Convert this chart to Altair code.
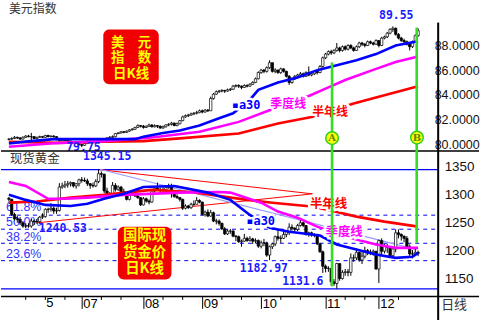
import altair as alt
import pandas as pd

# ---------------- data ----------------
usd_open0 = 80.38
usd_close = [80.40, 80.45, 80.55, 80.50, 80.40, 80.55, 80.65, 80.60, 80.60, 80.45,
             80.55, 80.60, 80.55, 80.70, 80.60, 80.65, 80.60, 80.35, 80.30, 80.35,
             80.30, 80.25, 80.10, 80.20, 80.10, 79.95, 79.90, 80.05, 80.25, 80.20,
             80.15, 80.10, 80.20, 80.20, 80.35, 80.50, 80.55, 80.60, 80.85, 80.90,
             81.00, 80.95, 81.05, 81.15, 81.20, 81.35, 81.50, 81.45, 81.35, 81.45,
             81.55, 81.40, 81.50, 81.45, 81.30, 81.40, 81.55, 81.60, 81.70, 81.50,
             81.65, 81.90, 82.20, 82.30, 82.35, 82.45, 82.50, 82.55, 82.70, 82.60,
             82.75, 82.70, 83.70, 84.05, 84.25, 84.30, 84.35, 84.30, 84.40, 84.45,
             84.70, 84.75, 84.70, 84.60, 84.75, 84.70, 84.85, 85.00, 85.30, 85.80,
             86.00, 85.90, 86.20, 86.60, 85.90, 86.00, 85.80, 86.10, 85.90, 85.50,
             85.00, 85.30, 85.50, 85.60, 85.70, 85.50, 85.80, 85.60, 85.70, 85.90,
             85.80, 86.30, 87.00, 87.30, 87.50, 87.40, 87.60, 87.80, 87.60, 87.90,
             87.70, 88.00, 87.80, 87.60, 87.90, 88.20, 88.10, 88.00, 88.30, 88.20,
             88.10, 88.40, 88.00, 88.60, 88.70, 89.00, 89.30, 89.40, 88.90, 88.60,
             88.40, 88.30, 88.10, 87.90, 88.30, 88.80, 89.20]
usd_high = [80.48, 80.55, 80.65, 80.60, 80.55, 80.62, 80.72, 80.75, 80.90, 80.65,
            80.60, 80.68, 80.66, 80.75, 80.75, 80.70, 80.72, 80.65, 80.40, 80.42,
            80.40, 80.40, 80.30, 80.25, 80.25, 80.15, 80.00, 80.10, 80.30, 80.30,
            80.25, 80.20, 80.25, 80.28, 80.40, 80.55, 80.65, 80.70, 80.90, 80.95,
            81.05, 81.05, 81.10, 81.20, 81.30, 81.40, 81.60, 81.55, 81.55, 81.50,
            81.65, 81.60, 81.60, 81.55, 81.50, 81.50, 81.60, 81.70, 81.80, 81.75,
            81.75, 81.95, 82.30, 82.40, 82.45, 82.55, 82.60, 82.70, 82.80, 82.80,
            82.85, 82.85, 83.85, 84.15, 84.35, 84.40, 84.45, 84.40, 84.50, 84.55,
            84.80, 84.85, 84.85, 84.75, 84.85, 84.85, 84.95, 85.10, 85.40, 85.90,
            86.10, 86.10, 86.30, 86.80, 86.60, 86.15, 86.05, 86.20, 86.15, 85.95,
            85.60, 85.40, 85.60, 85.70, 85.85, 85.80, 85.90, 86.30, 85.80, 86.00,
            86.00, 86.40, 87.10, 87.40, 87.60, 87.65, 87.70, 88.20, 87.90, 88.00,
            88.00, 88.10, 88.10, 87.90, 88.00, 88.30, 88.30, 88.20, 88.40, 88.40,
            88.30, 88.50, 88.45, 88.70, 88.80, 89.10, 89.40, 89.55, 89.45, 89.00,
            88.70, 88.55, 88.40, 88.20, 88.40, 88.90, 89.40]
usd_low = [80.30, 80.35, 80.40, 80.42, 80.35, 80.38, 80.50, 80.55, 80.25, 80.40,
           80.40, 80.50, 80.50, 80.50, 80.55, 80.55, 80.52, 80.30, 80.20, 80.25,
           80.25, 80.20, 80.05, 80.05, 80.00, 79.90, 79.75, 79.85, 80.00, 80.15,
           80.05, 80.00, 80.05, 80.12, 80.15, 80.30, 80.45, 80.50, 80.55, 80.80,
           80.85, 80.88, 80.90, 81.00, 81.10, 81.15, 81.30, 81.35, 81.25, 81.30,
           81.40, 81.35, 81.35, 81.30, 81.25, 81.25, 81.35, 81.45, 81.50, 81.45,
           81.45, 81.60, 81.85, 82.15, 82.20, 82.30, 82.35, 82.40, 82.50, 82.50,
           82.55, 82.60, 82.70, 83.60, 84.00, 84.15, 84.20, 84.15, 84.25, 84.30,
           84.40, 84.60, 84.55, 84.45, 84.55, 84.60, 84.65, 84.80, 84.95, 85.25,
           85.70, 85.75, 85.80, 86.10, 85.80, 85.75, 85.70, 85.70, 85.80, 85.40,
           84.80, 84.90, 85.20, 85.40, 85.50, 85.40, 85.45, 85.50, 85.50, 85.60,
           85.65, 85.75, 86.20, 86.90, 87.20, 87.25, 87.30, 87.50, 87.45, 87.50,
           87.60, 87.60, 87.70, 87.50, 87.55, 87.80, 87.95, 87.85, 87.95, 88.10,
           88.00, 88.05, 87.85, 87.95, 88.50, 88.60, 88.90, 89.10, 88.80, 88.50,
           88.30, 88.20, 88.00, 87.60, 87.80, 88.20, 88.70]

gold_open0 = 1294
gold_close = [1292, 1265, 1257, 1256, 1250, 1244, 1244, 1244, 1253, 1252,
              1252, 1260, 1261, 1274, 1274, 1276, 1271, 1272, 1314, 1316,
              1318, 1320, 1322, 1316, 1320, 1327, 1326, 1325, 1320, 1317,
              1316, 1324, 1338, 1337, 1307, 1297, 1300, 1317, 1310, 1314,
              1306, 1304, 1292, 1303, 1303, 1298, 1295, 1282, 1293, 1289,
              1287, 1307, 1312, 1310, 1309, 1309, 1313, 1314, 1305, 1297,
              1295, 1292, 1276, 1280, 1277, 1283, 1283, 1290, 1287, 1265,
              1269, 1262, 1268, 1253, 1253, 1249, 1239, 1230, 1235, 1235,
              1226, 1225, 1216, 1217, 1222, 1218, 1221, 1217, 1218, 1208,
              1214, 1214, 1192, 1207, 1212, 1225, 1222, 1222, 1229, 1234,
              1242, 1240, 1238, 1245, 1250, 1245, 1230, 1232, 1228, 1228,
              1212, 1198, 1172, 1168, 1168, 1144, 1141, 1177, 1150, 1161,
              1162, 1161, 1187, 1187, 1197, 1183, 1190, 1200, 1197, 1197,
              1199, 1167, 1218, 1199, 1208, 1206, 1191, 1203, 1232, 1229,
              1226, 1222, 1207, 1194, 1194, 1197, 1195]
gold_high = [1296, 1293, 1268, 1262, 1260, 1253, 1249, 1249, 1257, 1256,
             1257, 1262, 1267, 1276, 1277, 1285, 1279, 1277, 1321, 1322,
             1325, 1325, 1324, 1323, 1321, 1329, 1332, 1331, 1329, 1321,
             1322, 1328, 1345.15, 1342, 1338, 1313, 1305, 1323, 1321, 1317,
             1316, 1311, 1305, 1305, 1306, 1303, 1300, 1296, 1296, 1295,
             1292, 1309, 1315, 1322, 1313, 1314, 1314, 1320, 1320, 1305,
             1301, 1296, 1293, 1283, 1282, 1286, 1290, 1296, 1292, 1288,
             1272, 1274, 1273, 1270, 1257, 1256, 1250, 1242, 1238, 1239,
             1237, 1228, 1227, 1220, 1230, 1225, 1226, 1223, 1222, 1220,
             1218, 1221, 1216, 1209, 1214, 1227, 1237, 1227, 1237, 1236,
             1249, 1247, 1242, 1248, 1255, 1251, 1246, 1234, 1234, 1231,
             1230, 1214, 1200, 1175, 1172, 1169, 1149, 1178, 1176, 1165,
             1167, 1167, 1195, 1193, 1204, 1198, 1197, 1207, 1203, 1202,
             1202, 1198, 1220, 1222, 1212, 1212, 1208, 1205, 1238, 1238,
             1231, 1227, 1226, 1211, 1201, 1203, 1200]
gold_low = [1288, 1262, 1254, 1250, 1246, 1241, 1240.53, 1241, 1241, 1246,
            1248, 1248, 1257, 1259, 1268, 1270, 1266, 1266, 1270, 1311,
            1312, 1313, 1315, 1313, 1311, 1315, 1322, 1323, 1316, 1311,
            1313, 1314, 1321, 1331, 1303, 1293, 1294, 1296, 1306, 1307,
            1304, 1300, 1290, 1290, 1298, 1296, 1293, 1280, 1281, 1286,
            1283, 1286, 1304, 1307, 1304, 1306, 1305, 1311, 1295, 1295,
            1293, 1288, 1273, 1274, 1275, 1275, 1280, 1283, 1285, 1263,
            1261, 1260, 1261, 1251, 1247, 1245, 1237, 1228, 1228, 1230,
            1224, 1217, 1214, 1207, 1216, 1216, 1216, 1212, 1213, 1205,
            1204, 1208, 1189, 1182.97, 1203, 1208, 1218, 1214, 1221, 1224,
            1228, 1236, 1232, 1235, 1243, 1242, 1227, 1225, 1225, 1224,
            1210, 1196, 1160, 1161, 1162, 1137, 1137, 1131.6, 1146, 1148,
            1155, 1154, 1155, 1180, 1183, 1180, 1176, 1186, 1192, 1192,
            1191, 1166, 1142, 1193, 1195, 1196, 1189, 1188, 1197, 1222,
            1218, 1215, 1206, 1189, 1186, 1191, 1190]

# moving averages (day index, value)
usd_ma30_i = [0, 6, 16, 45, 48, 55, 61, 68, 75, 80, 86, 89, 96, 103, 110, 117, 124, 131, 138, 146]
usd_ma30_v = [80.05, 80.2, 80.4, 80.4, 80.6, 80.9, 81.1, 81.5, 82.1, 82.5, 83.6, 84.4, 85.0, 85.4, 86.0, 86.4, 86.8, 87.3, 88.0, 88.35]
usd_q_i = [0, 16, 34, 51, 68, 82, 93, 100, 107, 114, 120, 131, 138, 146]
usd_q_v = [79.78, 80.06, 80.24, 80.54, 81.0, 81.8, 82.75, 83.3, 83.9, 84.6, 85.2, 86.1, 86.65, 87.1]
usd_h_i = [0, 17, 34, 48, 61, 82, 96, 108, 123, 134, 146]
usd_h_v = [80.19, 80.1, 80.19, 80.24, 80.46, 80.86, 81.67, 82.2, 83.29, 83.96, 84.7]

gold_ma30_i = [0, 6, 13, 22, 28, 34, 41, 48, 59, 71, 79, 86, 93, 100, 111, 117, 124, 131, 138, 144, 146]
gold_ma30_v = [1300, 1291, 1282, 1280, 1284, 1293, 1302, 1314, 1316, 1304, 1291, 1264, 1241, 1234, 1227, 1211, 1202, 1193, 1187, 1189, 1196]
gold_q_i = [0, 6, 14, 20, 28, 41, 61, 75, 79, 90, 96, 103, 110, 116, 124, 131, 138, 146]
gold_q_v = [1323, 1316, 1293, 1293, 1295, 1300, 1304, 1305, 1304, 1286, 1270, 1259, 1243, 1232, 1220, 1211, 1205, 1205]
gold_h_i = [0, 10, 22, 34, 51, 65, 85, 94, 108, 114, 124, 134, 146]
gold_h_v = [1286, 1288, 1295, 1300, 1309, 1305, 1291, 1286, 1279, 1273, 1261, 1252, 1243]

gold_hlines = [1345.15, 1131.6]
fib_levels = [1263.6, 1238.4, 1213.2, 1182.0]
fib_names = ["61.8%", "50.0%", "38.2%", "23.6%"]
fib_label_v = [1278.6, 1250.9, 1225.0, 1194.6]

month_ticks = [26, 48, 69, 90, 113, 132]
month_labels = ["07", "08", "09", "10", "11", "12"]
minor_ticks = [6, 13, 20, 33, 40, 55, 62, 76, 83, 97, 104, 120, 127, 139]

# ---------------- layout constants ----------------
W, HT, HB = 439, 151, 146
XD = [-1.0417, 151.39]
TD = [79.434, 91.636]
BD = [1117.86, 1378.57]
CJK = "Noto Sans CJK SC"
MONO = "DejaVu Sans Mono"
SANS = "Liberation Sans"
BLUE, MAG, RED, GREEN = "#0000ff", "#ff00ff", "#ff0000", "#33e01f"

xs = alt.Scale(domain=XD, nice=False, zero=False)
ts = alt.Scale(domain=TD, nice=False, zero=False)
bs = alt.Scale(domain=BD, nice=False, zero=False)

top_yaxis = alt.Axis(orient="right", values=[80, 82, 84, 86, 88], format=".4f", domain=False,
                     ticks=False, grid=False, labelPadding=-4, labelFont=SANS, labelFontSize=12.5,
                     labelColor="#111111")
bot_yaxis = alt.Axis(orient="right", values=[1150, 1200, 1250, 1300, 1350], format="d", domain=False,
                     ticks=False, grid=False, labelPadding=6, labelFont=SANS, labelFontSize=13.5,
                     labelColor="#111111")
label_expr = " : ".join(f"datum.value == {t} ? '{l}'" for t, l in zip(month_ticks[:-1], month_labels[:-1]))
label_expr += f" : '{month_labels[-1]}'"
bot_xaxis = alt.Axis(values=month_ticks, labelExpr=label_expr, tickSize=12, tickColor="black",
                     tickWidth=1, domain=False, grid=False, labelAlign="left", labelBaseline="top",
                     labelPadding=-11, labelOffset=1, labelFont=SANS, labelFontSize=13,
                     labelColor="black", labelFlush=False, labelOverlap=False, orient="bottom")

# panel-wide axis selection (every layer of a panel carries the same axes)
PANEL = {"top": (None, top_yaxis), "bot": (bot_xaxis, bot_yaxis)}
CUR = {"p": "top"}


def X(field="i"):
    return alt.X(f"{field}:Q", scale=xs, axis=PANEL[CUR["p"]][0], title=None)


def Y(field, sc):
    return alt.Y(f"{field}:Q", scale=sc, axis=PANEL[CUR["p"]][1], title=None)


def ohlc(close, high, low, open0):
    opens = [open0] + close[:-1]
    return pd.DataFrame({"i": list(range(len(close))), "open": opens,
                         "close": close, "high": high, "low": low})


def candles(df, sc):
    wick = alt.Chart(df).mark_rule(color="black", strokeWidth=1).encode(
        x=X(), y=Y("low", sc), y2="high:Q")
    body = alt.Chart(df).mark_bar(size=2.4, stroke="black", strokeWidth=0.7).encode(
        x=X(), y=Y("open", sc), y2="close:Q",
        fill=alt.condition("datum.close >= datum.open", alt.value("white"), alt.value("black")))
    return [wick, body]


def ma(iv, vv, color, sc):
    df = pd.DataFrame({"i": iv, "v": vv})
    return alt.Chart(df).mark_line(color=color, strokeWidth=2.6).encode(x=X(), y=Y("v", sc))


def txt(rows, sc, color, halo=False, **mk):
    df = pd.DataFrame(rows, columns=["i", "v", "t"])
    layers = []
    if halo:
        layers.append(alt.Chart(df).mark_text(stroke="white", strokeWidth=5, color="white", **mk)
                      .encode(x=X(), y=Y("v", sc), text="t:N"))
    layers.append(alt.Chart(df).mark_text(color=color, **mk).encode(x=X(), y=Y("v", sc), text="t:N"))
    return layers


def box(rows, sc):
    df = pd.DataFrame(rows, columns=["i", "i2", "v", "v2"])
    return alt.Chart(df).mark_rect(color="#f00000", cornerRadius=6).encode(
        x=X(), x2="i2:Q", y=Y("v", sc), y2="v2:Q")


def vline(rows, sc):
    df = pd.DataFrame(rows, columns=["i", "v", "v2"])
    return alt.Chart(df).mark_rule(color=GREEN, strokeWidth=2.6).encode(x=X(), y=Y("v", sc), y2="v2:Q")


one = pd.DataFrame({"k": [0]})

# ---------------- top panel: US dollar index ----------------
CUR["p"] = "top"
usd = ohlc(usd_close, usd_high, usd_low, usd_open0)
top_layers = []
top_layers += candles(usd, ts)
top_layers.append(ma(usd_h_i, usd_h_v, RED, ts))
top_layers.append(ma(usd_q_i, usd_q_v, MAG, ts))
top_layers.append(ma(usd_ma30_i, usd_ma30_v, BLUE, ts))
top_layers += txt([(79.5, 83.15, "▪a30")], ts, BLUE, halo=True, font=MONO, fontSize=12,
                  fontWeight="bold", align="left", baseline="middle")
top_layers += txt([(99.65, 83.23, "季度线")], ts, MAG, halo=True, font=CJK, fontSize=12,
                  fontWeight="bold", align="center", baseline="middle")
top_layers += txt([(114.6, 82.59, "半年线")], ts, RED, halo=True, font=CJK, fontSize=12,
                  fontWeight="bold", align="center", baseline="middle")
top_layers += txt([(138.2, 90.38, "89.55"), (26.6, 79.68, "79.75")], ts, "#1a1aff", font=MONO,
                  fontSize=11.5, fontWeight="bold", align="center", baseline="middle")
top_layers += txt([(0.0, 90.99, "美元指数")], ts, "#333333", font=CJK, fontSize=12,
                  align="left", baseline="middle")
top_layers.append(box([(33.68, 53.47, 84.85, 89.29)], ts))
top_layers += txt([(43.58, 88.20, "美　元"), (43.58, 86.99, "指　数"), (43.58, 85.70, "日K线")], ts,
                  "#ffff00", font=CJK, fontSize=13.5, fontWeight="bold", align="center",
                  baseline="middle")
top_layers.append(alt.Chart(one).mark_rule(color="black", strokeWidth=1.6).encode(
    x=alt.value(0), x2=alt.value(480), y=alt.value(HT)))
top_layers.append(alt.Chart(one).mark_rule(color="black", strokeWidth=2).encode(
    x=alt.value(W), y=alt.value(22), y2=alt.value(HT)))
top_layers.append(vline([(115.3, 86.63, TD[0]), (145.5, 89.45, TD[0])], ts))
circ = pd.DataFrame({"i": [115.3, 145.6], "v": [80.485, 80.525], "t": ["A", "B"]})
top_layers.append(alt.Chart(circ).mark_circle(size=160, color="#ffff00", stroke="#30d020",
                                             strokeWidth=1.5, opacity=1).encode(x=X(), y=Y("v", ts)))
top_layers.append(alt.Chart(circ).mark_text(font="DejaVu Serif", fontSize=10, fontWeight="bold",
                                           color="#5c8a00", baseline="middle").encode(
    x=X(), y=Y("v", ts), text="t:N"))

top = alt.layer(*top_layers).properties(width=W, height=HT)

# ---------------- bottom panel: spot gold ----------------
CUR["p"] = "bot"
gold = ohlc(gold_close, gold_high, gold_low, gold_open0)
bl = []
hl = pd.DataFrame({"v": gold_hlines})
bl.append(alt.Chart(hl).mark_rule(color=BLUE, strokeWidth=1.3).encode(
    x=alt.value(0), x2=alt.value(W), y=Y("v", bs)))
fl = pd.DataFrame({"v": fib_levels})
bl.append(alt.Chart(fl).mark_rule(color="#0000ee", strokeWidth=1, strokeDash=[4, 4]).encode(
    x=alt.value(0), x2=alt.value(W), y=Y("v", bs)))
bl += txt([(-1.0, v, n) for v, n in zip(fib_label_v, fib_names)], bs, "#3333ff", font=SANS,
          fontSize=12.5, align="left", baseline="middle")
trend = pd.DataFrame({"i": [32.5, 10.4], "v": [1345.15, 1250.0], "i2": [108.3, 108.3], "v2": [1301.8, 1301.8]})
bl.append(alt.Chart(trend).mark_rule(color=RED, strokeWidth=1).encode(
    x=X(), x2="i2:Q", y=Y("v", bs), y2="v2:Q"))
lav = pd.DataFrame({"i": [32.5], "v": [1346.0], "i2": [145.5], "v2": [1201.8]})
bl.append(alt.Chart(lav).mark_rule(color="#9a9aff", strokeWidth=1.2).encode(
    x=X(), x2="i2:Q", y=Y("v", bs), y2="v2:Q"))
bl += candles(gold, bs)
bl.append(ma(gold_h_i, gold_h_v, RED, bs))
bl.append(ma(gold_q_i, gold_q_v, MAG, bs))
bl.append(ma(gold_ma30_i, gold_ma30_v, BLUE, bs))
bl += txt([(84.7, 1252.7, "▪a30")], bs, BLUE, halo=True, font=MONO, fontSize=12, fontWeight="bold",
          align="left", baseline="middle")
bl += txt([(119.6, 1233.0, "季度线")], bs, MAG, halo=True, font=CJK, fontSize=12.5, fontWeight="bold",
          align="center", baseline="middle")
bl += txt([(114.06, 1283.9, "半年线")], bs, RED, halo=True, font=CJK, fontSize=12.5, fontWeight="bold",
          align="center", baseline="middle")
bl += txt([(35.07, 1367.0, "1345.15"), (19.27, 1238.4, "1240.53"), (90.97, 1167.0, "1182.97"),
           (104.86, 1143.75, "1131.6")], bs, "#1a1aff", font=MONO, fontSize=11.5, fontWeight="bold",
          align="center", baseline="middle")
bl += txt([(0.35, 1364.3, "现货黄金")], bs, "#333333", font=CJK, fontSize=12.5,
          align="left", baseline="middle")
bl.append(box([(38.9, 58.0, 1148.2, 1242.9)], bs))
bl += txt([(48.4, 1226.8, "国际现"), (48.4, 1196.4, "货金价"), (48.4, 1167.9, "日K线")], bs,
          "#ffff00", font=CJK, fontSize=14.5, fontWeight="bold", align="center", baseline="middle")
bl.append(vline([(115.3, BD[1], 1136.0), (145.5, BD[1], 1214.3)], bs))
bl.append(alt.Chart(one).mark_rule(color="black", strokeWidth=1.5).encode(
    x=alt.value(0), x2=alt.value(480), y=alt.value(HB)))
bl.append(alt.Chart(one).mark_rule(color="black", strokeWidth=2).encode(
    x=alt.value(W), y=alt.value(0), y2=alt.value(HB + 24)))
mt = pd.DataFrame({"i": minor_ticks})
bl.append(alt.Chart(mt).mark_rule(color="black", strokeWidth=1).encode(
    x=X(), y=alt.value(HB), y2=alt.value(HB + 3.5)))
bl.append(alt.Chart(pd.DataFrame({"i": [13], "t": ["5"]})).mark_text(
    font=SANS, fontSize=13, color="black", align="left", baseline="top", dx=1).encode(
    x=X(), y=alt.value(HB + 1), text="t:N"))
bl.append(alt.Chart(pd.DataFrame({"t": ["日线"]})).mark_text(
    font=CJK, fontSize=13, color="#333333", align="left", baseline="middle").encode(
    x=alt.value(W + 3), y=alt.value(HB + 9), text="t:N"))

bottom = alt.layer(*bl).properties(width=W, height=HB)

chart = alt.vconcat(top, bottom, spacing=0, bounds="flush").properties(
    padding=0, background="white"
).configure_view(strokeWidth=0)

chart.save("out.html", embed_options={"renderer": "svg", "actions": False})
